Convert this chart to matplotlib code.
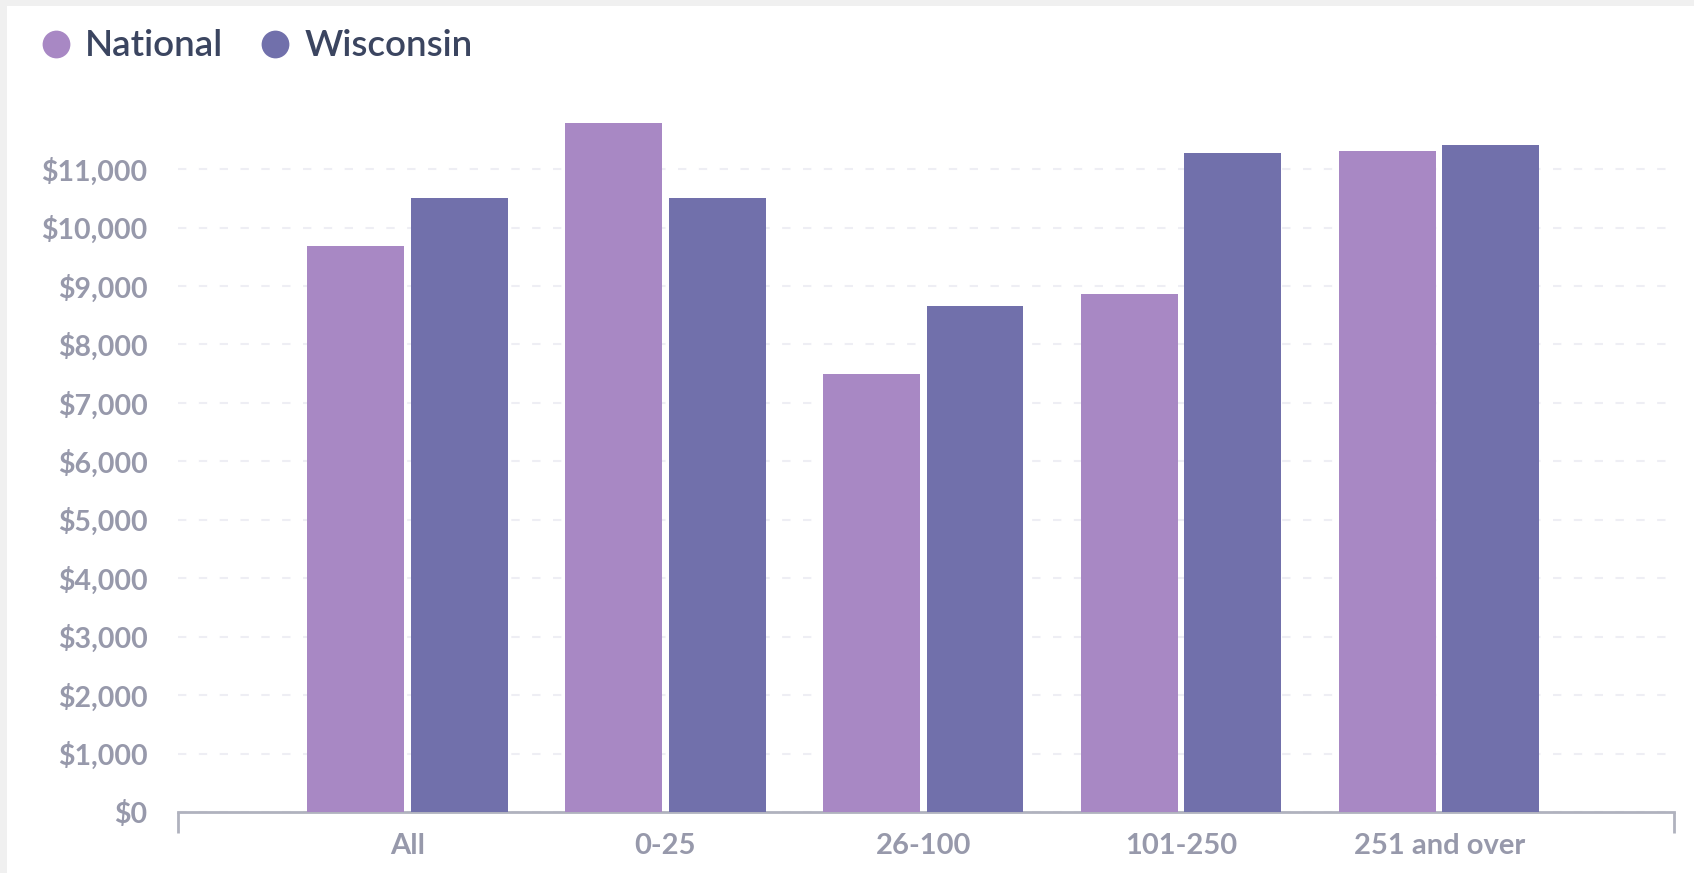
import matplotlib.pyplot as plt
from matplotlib.lines import Line2D
from matplotlib.patches import Rectangle
from matplotlib.ticker import FuncFormatter
import numpy as np

# data
categories = ["All", "0-25", "26-100", "101-250", "251 and over"]
national = [9680, 11780, 7490, 8870, 11310]
wisconsin = [10500, 10500, 8650, 11270, 11410]

col_nat = "#a888c4"
col_wis = "#7170ab"
tick_col = "#9799ab"
axis_col = "#b0b2be"

plt.rcParams['font.family'] = ['Lato', 'DejaVu Sans']

fig = plt.figure(figsize=(16.94, 8.73), dpi=100)
fig.patch.set_facecolor("#f0f0f0")
# white card on the grey page
fig.patches.append(Rectangle((7 / 1694, 0), 1, 1 - 6 / 873, transform=fig.transFigure,
                             facecolor="white", edgecolor="none", zorder=-5))

ax = fig.add_axes([178 / 1694, 1 - 812 / 873, (1674 - 178) / 1694, (812 - 110.6) / 873])
ax.set_facecolor("none")

x = np.arange(len(categories))
w = 0.376
ax.bar(x - 0.2, national, width=w, color=col_nat, linewidth=0, zorder=3)
ax.bar(x + 0.2, wisconsin, width=w, color=col_wis, linewidth=0, zorder=3)

ax.set_xlim(-0.89, 4.91)
ax.set_ylim(0, 12000)

ax.set_yticks(np.arange(0, 12000, 1000))
ax.yaxis.set_major_formatter(FuncFormatter(lambda v, p: f"${v:,.0f}"))
ax.tick_params(axis='y', length=0, pad=22, labelsize=20.5, labelcolor=tick_col)
for lab in ax.get_yticklabels():
    lab.set_fontweight('bold')

ax.set_xticks(x)
ax.set_xticklabels(categories, fontsize=21, fontweight='bold', color=tick_col)
ax.tick_params(axis='x', which='major', length=0, pad=15)
ax.set_xticks([-0.89, 4.91], minor=True)
ax.tick_params(axis='x', which='minor', length=15, width=2, color=axis_col)

ax.grid(axis='y', color="#eeeef4", linestyle=(0, (4, 6)), linewidth=1.5, zorder=0)
for s in ['top', 'right', 'left']:
    ax.spines[s].set_visible(False)
ax.spines['bottom'].set_color(axis_col)
ax.spines['bottom'].set_linewidth(2)

handles = [Line2D([], [], marker='o', linestyle='none', markersize=20,
                  markerfacecolor=col_nat, markeredgecolor='none'),
           Line2D([], [], marker='o', linestyle='none', markersize=20,
                  markerfacecolor=col_wis, markeredgecolor='none')]
fig.legend(handles, ["National", "Wisconsin"], loc='center left',
           bbox_to_anchor=(4 / 1694, 1 - 46 / 873), ncol=2, frameon=False,
           prop={'size': 26.5, 'weight': 'semibold'}, labelcolor="#3b4560",
           handletextpad=0.3, columnspacing=0.9, handlelength=1.0)

fig.savefig("out.png", dpi=100, facecolor=fig.get_facecolor())
